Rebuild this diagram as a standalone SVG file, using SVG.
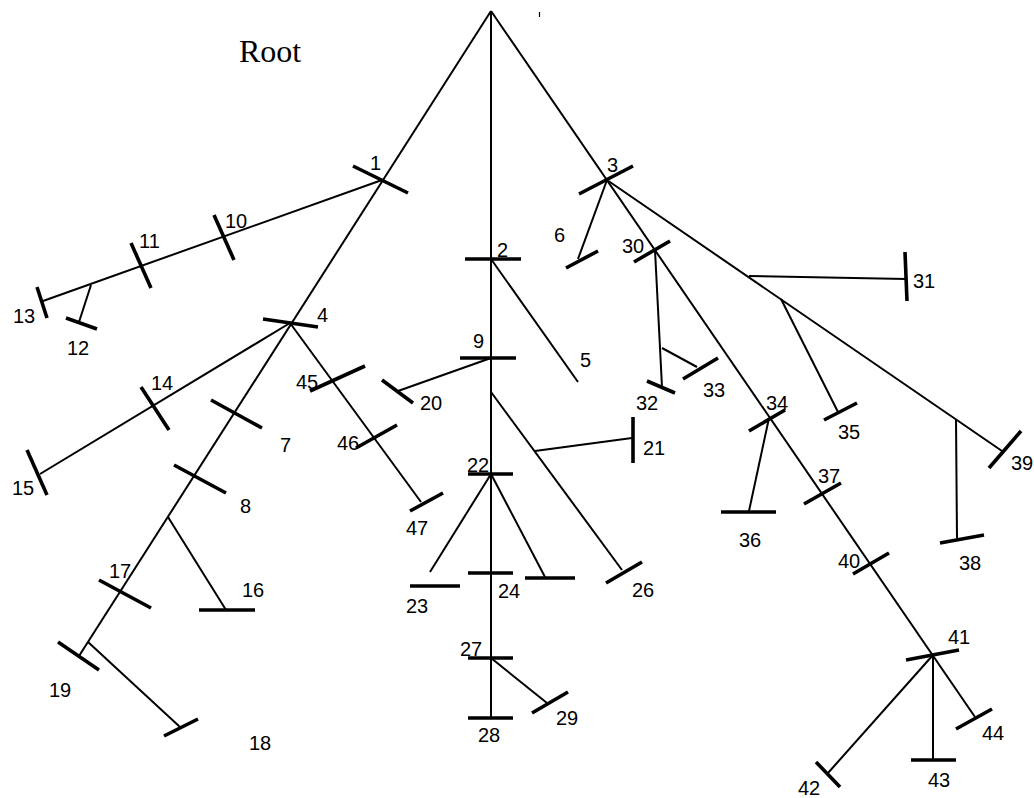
<svg xmlns="http://www.w3.org/2000/svg" width="1034" height="798" viewBox="0 0 1034 798">
<style>
.c{stroke:#000;stroke-width:2;fill:none;stroke-linecap:butt}
.b{stroke:#000;stroke-width:3.6;fill:none}
text{font-family:"Liberation Sans",Arial,sans-serif;font-size:20px;fill:#000}
.root{font-family:"Liberation Serif","Times New Roman",serif;font-size:32px}
</style>
<rect width="1034" height="798" fill="#fff"/>
<text class="root" x="239" y="62">Root</text>
<line x1="539.5" y1="12" x2="539.5" y2="17" stroke="#000" stroke-width="1.2"/>
<g id="connectors">
<line class="c" x1="491" y1="11" x2="79" y2="656"/>
<line class="c" x1="491" y1="11" x2="491" y2="718"/>
<line class="c" x1="491" y1="11" x2="975" y2="717"/>
<line class="c" x1="382" y1="180" x2="43" y2="301"/>
<line class="c" x1="91" y1="285" x2="79" y2="322"/>
<line class="c" x1="290" y1="323" x2="40" y2="474"/>
<line class="c" x1="290" y1="323" x2="421" y2="502"/>
<line class="c" x1="168" y1="517" x2="226" y2="610"/>
<line class="c" x1="88" y1="642" x2="180" y2="727"/>
<line class="c" x1="491" y1="259" x2="578" y2="382"/>
<line class="c" x1="491" y1="358" x2="398" y2="391"/>
<line class="c" x1="491" y1="392" x2="622" y2="570"/>
<line class="c" x1="535" y1="451" x2="632" y2="438"/>
<line class="c" x1="491" y1="474" x2="430" y2="572"/>
<line class="c" x1="491" y1="474" x2="545" y2="577"/>
<line class="c" x1="491" y1="658" x2="547" y2="703"/>
<line class="c" x1="607" y1="180" x2="578" y2="259"/>
<line class="c" x1="607" y1="180" x2="1002" y2="451"/>
<line class="c" x1="655" y1="250" x2="662" y2="387"/>
<line class="c" x1="662" y1="348" x2="697" y2="367"/>
<line class="c" x1="749" y1="276" x2="906" y2="279"/>
<line class="c" x1="781" y1="299" x2="838" y2="412"/>
<line class="c" x1="956" y1="419" x2="957" y2="538"/>
<line class="c" x1="769" y1="418" x2="749" y2="511"/>
<line class="c" x1="933" y1="655" x2="828" y2="773"/>
<line class="c" x1="933" y1="655" x2="933" y2="760"/>
</g>
<g id="n1"><line class="b" x1="353" y1="166" x2="408" y2="193"/><text x="370" y="170">1</text></g>
<g id="n10"><line class="b" x1="214" y1="215" x2="234" y2="260"/><text x="225" y="228">10</text></g>
<g id="n11"><line class="b" x1="131" y1="243" x2="151" y2="288"/><text x="139" y="248">11</text></g>
<g id="n13"><line class="b" x1="37" y1="287" x2="47" y2="318"/><text x="13" y="323">13</text></g>
<g id="n12"><line class="b" x1="66" y1="318" x2="97" y2="329"/><text x="67" y="355">12</text></g>
<g id="n4"><line class="b" x1="263" y1="319" x2="318" y2="327"/><text x="317" y="322">4</text></g>
<g id="n14"><line class="b" x1="141" y1="387" x2="169" y2="430"/><text x="151" y="390">14</text></g>
<g id="n15"><line class="b" x1="27" y1="450" x2="47" y2="495"/><text x="12" y="495">15</text></g>
<g id="n7"><line class="b" x1="211" y1="400" x2="262" y2="428"/><text x="280" y="452">7</text></g>
<g id="n8"><line class="b" x1="174" y1="465" x2="226" y2="493"/><text x="240" y="513">8</text></g>
<g id="n16"><line class="b" x1="199" y1="610" x2="255" y2="610"/><text x="242" y="597">16</text></g>
<g id="n17"><line class="b" x1="99" y1="580" x2="151" y2="608"/><text x="109" y="578">17</text></g>
<g id="n19"><line class="b" x1="58" y1="642" x2="99" y2="670"/><text x="49" y="697">19</text></g>
<g id="n18"><line class="b" x1="164" y1="736" x2="198" y2="719"/><text x="249" y="750">18</text></g>
<g id="n45"><line class="b" x1="310" y1="391" x2="365" y2="366"/><text x="296" y="389">45</text></g>
<g id="n46"><line class="b" x1="356" y1="448" x2="397" y2="425"/><text x="337" y="450">46</text></g>
<g id="n47"><line class="b" x1="410" y1="511" x2="443" y2="493"/><text x="406" y="535">47</text></g>
<g id="n2"><line class="b" x1="465" y1="259" x2="521" y2="259"/><text x="497" y="257">2</text></g>
<g id="n5"><text x="580" y="367">5</text></g>
<g id="n9"><line class="b" x1="460" y1="358" x2="516" y2="358"/><text x="473" y="348">9</text></g>
<g id="n20"><line class="b" x1="382" y1="380" x2="413" y2="403"/><text x="420" y="410">20</text></g>
<g id="n21"><line class="b" x1="633" y1="417" x2="633" y2="463"/><text x="643" y="455">21</text></g>
<g id="n22"><line class="b" x1="468" y1="474" x2="513" y2="474"/><text x="467" y="472">22</text></g>
<g id="n23"><line class="b" x1="410" y1="586" x2="460" y2="586"/><text x="406" y="613">23</text></g>
<g id="n25"><line class="b" x1="525" y1="578" x2="575" y2="578"/></g>
<g id="n24"><line class="b" x1="468" y1="573" x2="513" y2="573"/><text x="498" y="598">24</text></g>
<g id="n26"><line class="b" x1="606" y1="583" x2="642" y2="562"/><text x="632" y="597">26</text></g>
<g id="n27"><line class="b" x1="468" y1="658" x2="513" y2="658"/><text x="460" y="656">27</text></g>
<g id="n29"><line class="b" x1="532" y1="713" x2="568" y2="692"/><text x="556" y="725">29</text></g>
<g id="n28"><line class="b" x1="468" y1="718" x2="513" y2="718"/><text x="478" y="742">28</text></g>
<g id="n3"><line class="b" x1="579" y1="194" x2="633" y2="166"/><text x="607" y="172">3</text></g>
<g id="n6"><line class="b" x1="566" y1="268" x2="598" y2="251"/><text x="554" y="242">6</text></g>
<g id="n30"><line class="b" x1="634" y1="262" x2="670" y2="241"/><text x="622" y="253">30</text></g>
<g id="n32"><line class="b" x1="647" y1="381" x2="675" y2="393"/><text x="636" y="410">32</text></g>
<g id="n33"><line class="b" x1="683" y1="379" x2="718" y2="358"/><text x="703" y="397">33</text></g>
<g id="n31"><line class="b" x1="905" y1="252" x2="907" y2="301"/><text x="913" y="288">31</text></g>
<g id="n35"><line class="b" x1="824" y1="420" x2="857" y2="403"/><text x="838" y="439">35</text></g>
<g id="n38"><line class="b" x1="940" y1="543" x2="984" y2="535"/><text x="959" y="570">38</text></g>
<g id="n39"><line class="b" x1="989" y1="468" x2="1021" y2="431"/><text x="1011" y="470">39</text></g>
<g id="n34"><line class="b" x1="749" y1="431" x2="785" y2="410"/><text x="766" y="410">34</text></g>
<g id="n36"><line class="b" x1="721" y1="512" x2="776" y2="512"/><text x="739" y="547">36</text></g>
<g id="n37"><line class="b" x1="804" y1="504" x2="841" y2="483"/><text x="818" y="483">37</text></g>
<g id="n40"><line class="b" x1="853" y1="574" x2="889" y2="553"/><text x="838" y="568">40</text></g>
<g id="n41"><line class="b" x1="906" y1="660" x2="959" y2="650"/><text x="948" y="644">41</text></g>
<g id="n42"><line class="b" x1="816" y1="762" x2="840" y2="787"/><text x="798" y="795">42</text></g>
<g id="n43"><line class="b" x1="911" y1="760" x2="956" y2="760"/><text x="928" y="787">43</text></g>
<g id="n44"><line class="b" x1="956" y1="729" x2="992" y2="709"/><text x="982" y="740">44</text></g>
</svg>
